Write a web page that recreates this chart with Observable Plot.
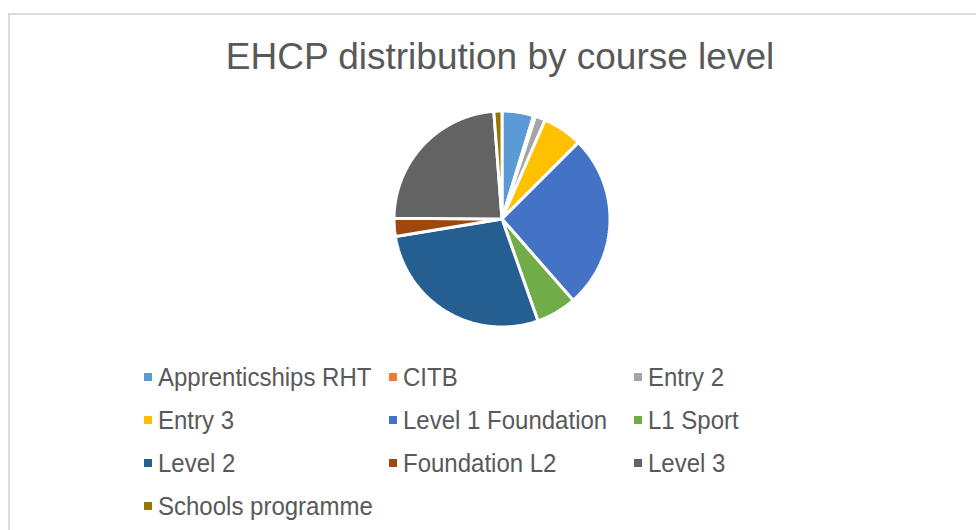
<!DOCTYPE html>
<html>
<head>
<meta charset="utf-8">
<script src="https://cdn.jsdelivr.net/npm/d3@7"></script>
<script src="https://cdn.jsdelivr.net/npm/@observablehq/plot@0.6"></script>
<style>
  html, body { margin: 0; padding: 0; background: #fff; width: 976px; height: 530px; overflow: hidden; }
  body { position: relative; font-family: "Liberation Sans", Arial, sans-serif; color: #595959; }
  #frame { position: absolute; left: 8px; top: 13px; width: 1100px; height: 700px; border: 2px solid #d9d9d9; box-sizing: border-box; }
  #title { position: absolute; left: 0; top: 35px; width: 1000px; text-align: center; font-size: 37px; line-height: 44px; }
  #chart { position: absolute; left: 0; top: 95px; }
  #legend { position: absolute; left: 0; top: 361px; }
  .item { position: absolute; font-size: 24px; line-height: 30px; white-space: nowrap; transform-origin: left center; transform: scaleY(1.08); }
  .sw { position: absolute; width: 8px; height: 8px; }
</style>
</head>
<body>
<div id="frame"></div>
<div id="title"></div>
<div id="chart"></div>
<div id="legend"></div>
<script>
const titleText = "EHCP distribution by course level";
const categories = ["Apprenticships RHT", "CITB", "Entry 2", "Entry 3", "Level 1 Foundation", "L1 Sport", "Level 2", "Foundation L2", "Level 3", "Schools programme"];
const values = [4.7, 0.3, 1.5, 5.9, 25.9, 6.0, 27.6, 2.7, 23.5, 1.2];
const colors = ["#5B9BD5", "#ED7D31", "#A5A5A5", "#FFC000", "#4472C4", "#70AD47", "#255E91", "#9E480E", "#636363", "#997300"];

document.getElementById("title").textContent = titleText;

// pie layout (clockwise from 12 o'clock, data order)
const pie = d3.pie().sort(null).value(d => d.value);
const arcs = pie(categories.map((c, i) => ({category: c, value: values[i]})));
const pts = [];
arcs.forEach(a => {
  if (a.endAngle - a.startAngle <= 0) return;
  pts.push({category: a.data.category, x: 0, y: 0});
  const n = Math.max(2, Math.ceil((a.endAngle - a.startAngle) / (Math.PI / 360)));
  for (let k = 0; k <= n; k++) {
    const t = a.startAngle + (a.endAngle - a.startAngle) * k / n;
    pts.push({category: a.data.category, x: Math.sin(t), y: Math.cos(t)});
  }
});

const W = 976, H = 250, R = 108, CX = 501.5, CY = 123.5;
const chart = Plot.plot({
  width: W,
  height: H,
  margin: 0,
  x: {domain: [-CX / R, (W - CX) / R], range: [0, W], axis: null},
  y: {domain: [-(H - CY) / R, CY / R], range: [H, 0], axis: null},
  color: {domain: categories, range: colors},
  marks: [
    Plot.line(pts, {x: "x", y: "y", z: "category", fill: "category", stroke: "white", strokeWidth: 3, strokeLinejoin: "miter", curve: "linear-closed"})
  ]
});
document.getElementById("chart").appendChild(chart);

// legend: 3 columns
const legend = document.getElementById("legend");
const colX = [144, 389, 634];
categories.forEach((c, i) => {
  const col = i % 3, row = Math.floor(i / 3);
  const sw = document.createElement("div");
  sw.className = "sw";
  sw.style.left = colX[col] + "px";
  sw.style.top = (row * 43 + 12) + "px";
  sw.style.background = colors[i];
  legend.appendChild(sw);
  const t = document.createElement("div");
  t.className = "item";
  t.style.left = (colX[col] + 14) + "px";
  t.style.top = (row * 43 + 1) + "px";
  t.textContent = c;
  legend.appendChild(t);
});
</script>
</body>
</html>
